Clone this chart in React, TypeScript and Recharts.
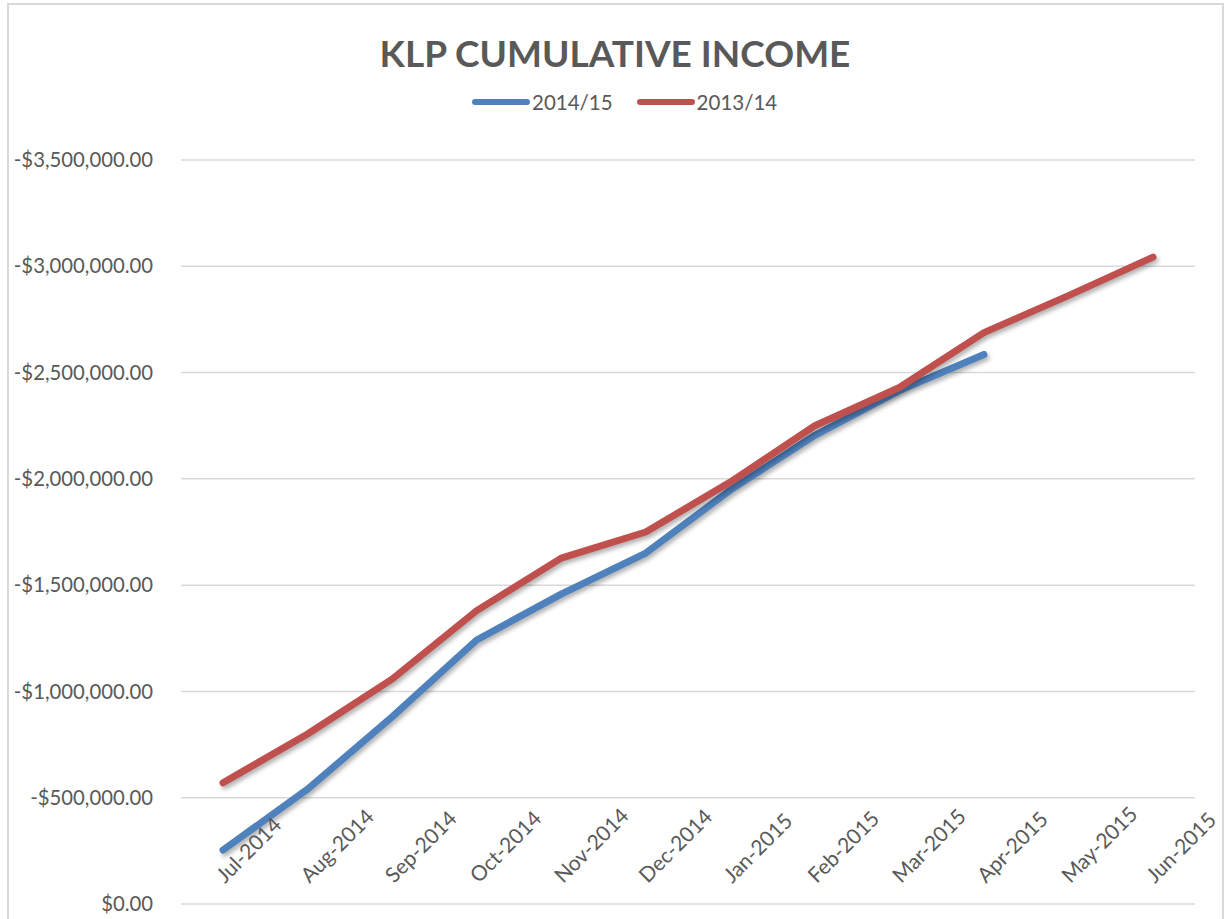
import React from 'react';
import { LineChart, Line, XAxis, YAxis, CartesianGrid, Legend } from 'recharts';

const months = [
  'Jul-2014', 'Aug-2014', 'Sep-2014', 'Oct-2014', 'Nov-2014', 'Dec-2014',
  'Jan-2015', 'Feb-2015', 'Mar-2015', 'Apr-2015', 'May-2015', 'Jun-2015',
];

// 2014/15 only runs to April
const income201415 = [
  -254000, -540000, -880000, -1242000, -1458000, -1651000,
  -1947000, -2205000, -2415000, -2585000, null, null,
];

const income201314 = [
  -570000, -800000, -1058000, -1380000, -1627000, -1750000,
  -1985000, -2250000, -2430000, -2688000, -2862000, -3043000,
];

const yTicks = [0, -500000, -1000000, -1500000, -2000000, -2500000, -3000000, -3500000];

const seriesOrder = ['fy1415', 'fy1314'];
const seriesNames = { fy1415: '2014/15', fy1314: '2013/14' };

const data = months.map((month, i) => ({
  month,
  fy1415: income201415[i],
  fy1314: income201314[i],
}));

const FONT = "Lato, 'Open Sans', sans-serif";
const TEXT = '#595959';
const GRID = '#d9d9d9';

const formatMoney = (v: number) =>
  (v < 0 ? '-' : '') +
  '$' +
  Math.abs(v).toLocaleString('en-US', { minimumFractionDigits: 2, maximumFractionDigits: 2 });

const MonthTick = (props: any) => {
  const { x, y, payload } = props;
  const ax = x + 2;
  const ay = y - 28;
  return (
    <text
      x={ax}
      y={ay}
      textAnchor="start"
      fill={TEXT}
      fontSize={21}
      fontFamily={FONT}
      transform={`rotate(-45, ${ax}, ${ay})`}
    >
      {payload.value}
    </text>
  );
};

const LegendContent = (props: any) => {
  const items = [...(props.payload || [])].sort(
    (a: any, b: any) => seriesOrder.indexOf(a.dataKey) - seriesOrder.indexOf(b.dataKey)
  );
  return (
    <div style={{ display: 'flex', alignItems: 'center', fontFamily: FONT, fontSize: 20.5, color: TEXT }}>
      {items.map((item: any) => (
        <span key={item.dataKey} style={{ display: 'inline-flex', alignItems: 'center', marginRight: 24 }}>
          <svg width={58} height={10}>
            <line x1={3} y1={5} x2={55} y2={5} stroke={item.color} strokeWidth={6} strokeLinecap="round" />
          </svg>
          <span style={{ marginLeft: 2 }}>{item.value}</span>
        </span>
      ))}
    </div>
  );
};

const App = () => {
  return (
    <div style={{ position: 'absolute', left: 0, top: 0, width: 1226, height: 919, overflow: 'hidden', background: '#fff' }}>
      <style>{`.recharts-line-curve{filter:drop-shadow(2px 3px 2px rgba(0,0,0,0.3));}`}</style>
      <svg width={1226} height={919} style={{ position: 'absolute', left: 0, top: 0 }}>
        <rect x={8} y={4} width={1215} height={940} fill="none" stroke={GRID} strokeWidth={2} />
        <text x={615} y={67} textAnchor="middle" fill={TEXT} fontFamily={FONT} fontWeight={700} fontSize={37}>
          KLP CUMULATIVE INCOME
        </text>
      </svg>
      <div style={{ position: 'absolute', left: 0, top: 0 }}>
        <LineChart width={1226} height={919} data={data} margin={{ top: 160, right: 31, bottom: 0, left: 0 }}>
          <CartesianGrid vertical={false} stroke={GRID} strokeWidth={1.5} />
          <XAxis
            dataKey="month"
            height={15}
            axisLine={false}
            tickLine={false}
            interval={0}
            padding={{ left: 42, right: 42 }}
            tick={<MonthTick />}
          />
          <YAxis
            type="number"
            width={181}
            domain={[-3500000, 0]}
            reversed
            ticks={yTicks}
            interval={0}
            tickFormatter={formatMoney}
            axisLine={false}
            tickLine={false}
            tickMargin={22}
            tick={{ fill: TEXT, fontSize: 20.3, fontFamily: FONT }}
          />
          <Legend
            layout="horizontal"
            verticalAlign="middle"
            align="center"
            wrapperStyle={{ top: 90, left: 472, width: 340 }}
            content={<LegendContent />}
          />
          <Line
            dataKey="fy1415"
            name={seriesNames.fy1415}
            stroke="#4f81bd"
            strokeWidth={7}
            strokeLinecap="round"
            strokeLinejoin="round"
            dot={false}
            activeDot={false}
            isAnimationActive={false}
          />
          <Line
            dataKey="fy1314"
            name={seriesNames.fy1314}
            stroke="#c0504d"
            strokeWidth={7}
            strokeLinecap="round"
            strokeLinejoin="round"
            dot={false}
            activeDot={false}
            isAnimationActive={false}
          />
        </LineChart>
      </div>
    </div>
  );
};

export default App;
